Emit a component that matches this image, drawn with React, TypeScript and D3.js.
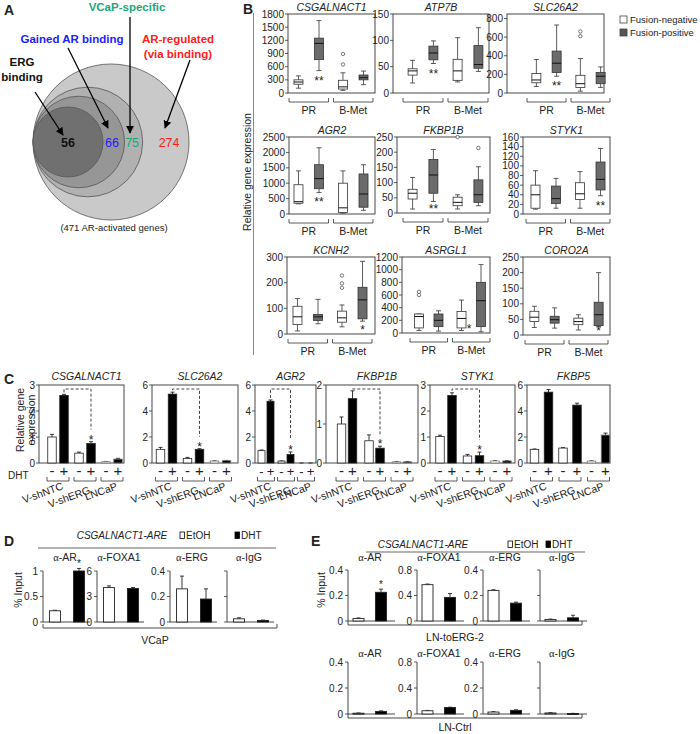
import React from 'react';
import * as d3 from 'd3';

const FONT = "'Liberation Sans', Arial, Helvetica, sans-serif";
const INK = '#222';

// ================= Panel A data =================
const vennLabelLines = [['ERG', 'binding'], ['Gained AR binding'], ['VCaP-specific'], ['AR-regulated', '(via binding)']];
const vennCounts = [56, 66, 75, 274];
const vennTotalLabel = '(471 AR-activated genes)';

// ================= Panel B data =================
const boxGenes = ['CSGALNACT1', 'ATP7B', 'SLC26A2', 'AGR2', 'FKBP1B', 'STYK1', 'KCNH2', 'ASRGL1', 'CORO2A'];
const boxTickMax = [1800, 150, 800, 2500, 250, 160, 300, 1200, 250];
const boxTickStep = [300, 50, 200, 500, 50, 20, 100, 200, 50];
const boxGroups = ['PR', 'B-Met'];
const fusionLegend = ['Fusion-negative', 'Fusion-positive'];
// [min, q1, median, q3, max] for PR-neg, PR-pos, B-Met-neg, B-Met-pos
const csgalnact1Box = [[110, 200, 250, 300, 390], [510, 760, 1130, 1250, 1650], [60, 90, 140, 290, 460], [190, 300, 350, 410, 500]];
const atp7bBox = [[19, 34, 42, 46, 62], [56, 63, 76, 89, 99], [21, 24, 42, 64, 105], [41, 47, 54, 90, 124]];
const slc26a2Box = [[70, 110, 140, 210, 360], [180, 220, 320, 450, 730], [20, 60, 100, 190, 370], [60, 100, 180, 220, 280]];
const agr2Box = [[330, 350, 400, 950, 1400], [700, 820, 1150, 1600, 2150], [30, 50, 200, 1000, 1400], [120, 220, 650, 1300, 1600]];
const fkbp1bBox = [[13, 46, 65, 78, 117], [38, 65, 125, 176, 209], [13, 24, 35, 52, 60], [24, 35, 60, 109, 152]];
const styk1Box = [[10, 12, 40, 60, 90], [12, 22, 32, 58, 74], [12, 30, 42, 65, 88], [38, 50, 72, 108, 136]];
const kcnh2Box = [[12, 37, 67, 108, 138], [40, 53, 67, 76, 135], [28, 46, 63, 89, 113], [50, 59, 133, 182, 283]];
const asrgl1Box = [[40, 80, 260, 300, 300], [30, 100, 200, 300, 350], [40, 80, 230, 340, 520], [20, 100, 510, 800, 1080]];
const coro2aBox = [[24, 43, 57, 76, 92], [22, 38, 49, 60, 87], [16, 33, 43, 54, 65], [27, 30, 65, 105, 200]];
const csgalnact1Out = [[], [], [650, 890], []];
const slc26a2Out = [[], [], [610, 660], []];
const fkbp1bOut = [[], [], [250], [214]];
const kcnh2Out = [[], [], [180, 197, 228], []];
const asrgl1Out = [[600, 650], [], [], []];
const noOut = [[], [], [], []];
const starsPRpos = ['', '**', '', ''];
const starsBMpos2 = ['', '', '', '**'];
const starsBMpos1 = ['', '', '', '*'];

const boxStatsAll = [csgalnact1Box, atp7bBox, slc26a2Box, agr2Box, fkbp1bBox, styk1Box, kcnh2Box, asrgl1Box, coro2aBox];
const boxOutAll = [csgalnact1Out, noOut, slc26a2Out, noOut, fkbp1bOut, noOut, kcnh2Out, asrgl1Out, noOut];
const boxStarsAll = [starsPRpos, starsPRpos, starsPRpos, starsPRpos, starsPRpos, starsBMpos2, starsBMpos1, starsBMpos1, starsBMpos1];

// ================= Panel C data =================
const barGenes = ['CSGALNACT1', 'SLC26A2', 'AGR2', 'FKBP1B', 'STYK1', 'FKBP5'];
const barTickMax = [3, 6, 6, 2, 3, 6];
const barTickStep = [1, 2, 2, 1, 1, 2];
const cellLines = ['V-shNTC', 'V-shERG', 'LNCaP'];
const dhtSigns = ['-', '+'];
// order: NTC-, NTC+, shERG-, shERG+, LNCaP-, LNCaP+
const csgalnact1Expr = [1.0, 2.6, 0.38, 0.75, 0.05, 0.15];
const csgalnact1Err = [0.1, 0.04, 0.04, 0.07, 0.01, 0.03];
const slc26a2Expr = [1.05, 5.3, 0.35, 1.05, 0.15, 0.18];
const slc26a2Err = [0.15, 0.15, 0.08, 0.05, 0.02, 0.02];
const agr2Expr = [0.95, 4.75, 0.15, 0.65, 0.0, 0.0];
const agr2Err = [0.05, 0.1, 0.01, 0.2, 0, 0];
const fkbp1bExpr = [1.0, 1.65, 0.57, 0.38, 0.03, 0.03];
const fkbp1bErr = [0.18, 0.2, 0.15, 0.05, 0.01, 0.01];
const styk1Expr = [1.02, 2.6, 0.27, 0.28, 0.08, 0.08];
const styk1Err = [0.05, 0.1, 0.06, 0.14, 0.01, 0.01];
const fkbp5Expr = [1.05, 5.45, 1.15, 4.45, 0.15, 2.15];
const fkbp5Err = [0.03, 0.2, 0.03, 0.15, 0.02, 0.15];
const barExprAll = [csgalnact1Expr, slc26a2Expr, agr2Expr, fkbp1bExpr, styk1Expr, fkbp5Expr];
const barErrAll = [csgalnact1Err, slc26a2Err, agr2Err, fkbp1bErr, styk1Err, fkbp5Err];
const barSignificant = [true, true, true, true, true, false];

// ================= Panels D / E data =================
const chipRegion = 'CSGALNACT1-ARE';
const chipTreatments = ['EtOH', 'DHT'];
const chipAntibodies = ['AR', 'FOXA1', 'ERG', 'IgG'];
const vcapTickMax = [1, 6, 0.4, 0.4];
const lnTickMax = [0.4, 0.8, 0.4, 0.4];
const chipTickLabels = [true, true, true, false];
const vcapChip = [[0.22, 1.0], [4.05, 3.95], [0.26, 0.18], [0.025, 0.012]];
const vcapChipErr = [[0.01, 0.05], [0.2, 0.1], [0.1, 0.08], [0.008, 0.003]];
const lnErgChip = [[0.02, 0.225], [0.57, 0.37], [0.24, 0.14], [0.012, 0.025]];
const lnErgChipErr = [[0.004, 0.025], [0.01, 0.06], [0.005, 0.008], [0.003, 0.02]];
const lnCtrlChip = [[0.006, 0.02], [0.05, 0.1], [0.015, 0.028], [0.008, 0.004]];
const lnCtrlChipErr = [[0.002, 0.004], [0.005, 0.005], [0.003, 0.004], [0.002, 0.001]];
const vcapStars = [['', '*'], ['', ''], ['', ''], ['', '']];
const lnErgStars = [['', '*'], ['', ''], ['', ''], ['', '']];
const noStars = [['', ''], ['', ''], ['', ''], ['', '']];
const cellLineD = 'VCaP';
const cellLinesE = ['LN-toERG-2', 'LN-Ctrl'];

// ================= Panel A =================
function PanelA() {
  const cum = Array.from(d3.cumsum(vennCounts));
  const rScale = d3.scaleSqrt().domain([cum[0], cum[cum.length - 1]]).range([35, 78]);
  const left = 33;
  const cy = 142;
  const radii = cum.map((c) => rScale(c));
  const fills = ['#707070', '#969696', '#b1b1b1', '#c9c9c9'];
  const numColors = ['#111111', '#2020ff', '#18a878', '#ff2020'];
  const numFrac = [0, 0.42, 0.42, 0.57];
  const numX = radii.map((r, i) => (i === 0 ? left + r : left + 2 * radii[i - 1] + numFrac[i] * (2 * r - 2 * radii[i - 1])));
  const labelPos = [[22, 66], [72, 43], [127, 11], [178, 43]];
  const arrows = [[35, 92, 63, 135], [68, 48, 108, 128], [130, 17, 130, 133], [190, 60, 165, 128]];
  const order = d3.range(radii.length).reverse();
  return (
    <g>
      <defs>
        <marker id="ahA" viewBox="0 0 10 10" refX="9" refY="5" markerWidth="8" markerHeight="8" markerUnits="userSpaceOnUse" orient="auto">
          <path d="M0,0 L10,5 L0,10 z" fill="#000" />
        </marker>
      </defs>
      <text x={4} y={15} fontSize={14} fontWeight="bold">A</text>
      {order.map((i) => (
        <circle key={i} cx={left + radii[i]} cy={cy} r={radii[i]} fill={fills[i]} stroke="#555" strokeWidth={0.8} />
      ))}
      {vennCounts.map((c, i) => (
        <text key={i} x={numX[i]} y={cy + 5} textAnchor="middle" fontSize={12.5} fontWeight={i === 0 ? 'bold' : 'normal'} fill={numColors[i]}>{c}</text>
      ))}
      {arrows.map((a, i) => (
        <line key={i} x1={a[0]} y1={a[1]} x2={a[2]} y2={a[3]} stroke="#000" strokeWidth={1.3} markerEnd="url(#ahA)" />
      ))}
      {vennLabelLines.map((lines, i) => (
        <text key={i} x={labelPos[i][0]} y={labelPos[i][1]} textAnchor="middle" fontSize={11.5} fontWeight="bold" fill={i === 0 ? '#111' : numColors[i]}>
          {lines.map((l, j) => (
            <tspan key={j} x={labelPos[i][0]} dy={j === 0 ? 0 : 15}>{l}</tspan>
          ))}
        </text>
      ))}
      <text x={114} y={231} textAnchor="middle" fontSize={9.5} fill="#222">{vennTotalLabel}</text>
    </g>
  );
}

// ================= Panel B =================
const bLayout = [
  { x0: 288, x1: 375, y0: 14, y1: 93, bx0: 289, bx1: 373, pad: 1 },
  { x0: 393, x1: 489, y0: 14, y1: 93, bx0: 403, bx1: 488, pad: 1 },
  { x0: 507, x1: 604, y0: 14, y1: 93, bx0: 527, bx1: 610, pad: 1.06 },
  { x0: 289, x1: 375, y0: 137, y1: 214, bx0: 289, bx1: 373, pad: 1 },
  { x0: 397, x1: 490, y0: 137, y1: 213, bx0: 403, bx1: 488, pad: 1 },
  { x0: 523, x1: 610, y0: 137, y1: 214, bx0: 526, bx1: 610, pad: 1 },
  { x0: 287, x1: 375, y0: 257, y1: 334, bx0: 288, bx1: 372, pad: 1 },
  { x0: 402, x1: 490, y0: 257, y1: 333, bx0: 410, bx1: 490, pad: 1 },
  { x0: 523, x1: 610, y0: 257, y1: 335, bx0: 525, bx1: 608, pad: 1 },
];
const starShift = [0, 0, 0, 0, 0, 0, 0, -12, 0];

function BoxPanel({ idx }: { idx: number }) {
  const L = bLayout[idx];
  const stats = boxStatsAll[idx];
  const outs = boxOutAll[idx];
  const stars = boxStarsAll[idx];
  const tmax = boxTickMax[idx];
  const y = d3.scaleLinear().domain([0, tmax * L.pad]).range([L.y1, L.y0]);
  const ticks = d3.range(0, tmax + boxTickStep[idx] / 2, boxTickStep[idx]);
  const mid = (L.bx0 + L.bx1) / 2;
  const brackets = [[L.bx0, mid - 2.5], [mid + 2.5, L.bx1]];
  const centers: number[] = [];
  brackets.forEach(([a, b]) => {
    const c = (a + b) / 2;
    const w = b - a;
    centers.push(c - w * 0.26, c + w * 0.26);
  });
  const bw = 9;
  return (
    <g>
      <text x={(L.x0 + L.x1) / 2} y={L.y0 - 3} textAnchor="middle" fontSize={10.5} fontStyle="italic">{boxGenes[idx]}</text>
      <rect x={L.x0} y={L.y0} width={L.x1 - L.x0} height={L.y1 - L.y0} fill="none" stroke="#333" strokeWidth={0.9} />
      {ticks.map((t) => (
        <g key={t}>
          <line x1={L.x0 - 3} x2={L.x0} y1={y(t)} y2={y(t)} stroke="#333" strokeWidth={0.8} />
          <text x={L.x0 - 4} y={y(t) + 3.5} textAnchor="end" fontSize={10}>{t}</text>
        </g>
      ))}
      {stats.map((s, i) => {
        const cx = centers[i];
        const pos = i % 2 === 1;
        return (
          <g key={i}>
            <line x1={cx} x2={cx} y1={y(s[0])} y2={y(s[1])} stroke="#333" strokeWidth={0.8} />
            <line x1={cx} x2={cx} y1={y(s[3])} y2={y(s[4])} stroke="#333" strokeWidth={0.8} />
            <line x1={cx - 2.5} x2={cx + 2.5} y1={y(s[0])} y2={y(s[0])} stroke="#333" strokeWidth={0.8} />
            <line x1={cx - 2.5} x2={cx + 2.5} y1={y(s[4])} y2={y(s[4])} stroke="#333" strokeWidth={0.8} />
            <rect x={cx - bw / 2} y={y(s[3])} width={bw} height={Math.max(0.5, y(s[1]) - y(s[3]))} fill={pos ? '#6b6b6b' : '#fff'} stroke="#333" strokeWidth={0.8} />
            <line x1={cx - bw / 2} x2={cx + bw / 2} y1={y(s[2])} y2={y(s[2])} stroke="#111" strokeWidth={1} />
            {outs[i].map((o, k) => (
              <circle key={k} cx={cx} cy={y(o)} r={1.7} fill="#fff" stroke="#555" strokeWidth={0.8} />
            ))}
            {stars[i] && (
              <text x={cx + starShift[idx]} y={Math.min(y(s[0]) + 7, L.y1 - 7) + 7} textAnchor="middle" fontSize={12}>{stars[i]}</text>
            )}
          </g>
        );
      })}
      {brackets.map(([a, b], i) => (
        <g key={i}>
          <path d={`M${a},${L.y1 + 5}V${L.y1 + 9}H${b}V${L.y1 + 5}`} fill="none" stroke="#333" strokeWidth={0.8} />
          <text x={(a + b) / 2} y={L.y1 + 21} textAnchor="middle" fontSize={10.5}>{boxGroups[i]}</text>
        </g>
      ))}
    </g>
  );
}

function PanelB() {
  return (
    <g>
      <text x={243} y={14} fontSize={14} fontWeight="bold">B</text>
      <line x1={253.5} x2={253.5} y1={13} y2={355} stroke="#888" strokeWidth={1} />
      <text transform="translate(251,172) rotate(-90)" textAnchor="middle" fontSize={10.5}>Relative gene expression</text>
      {boxGenes.map((g, i) => (
        <BoxPanel key={g} idx={i} />
      ))}
      {fusionLegend.map((t, i) => (
        <g key={t}>
          <rect x={620} y={16 + i * 13} width={7} height={7} fill={i === 0 ? '#fff' : '#555'} stroke="#444" strokeWidth={0.8} />
          <text x={630} y={23 + i * 13} fontSize={9.5}>{t}</text>
        </g>
      ))}
    </g>
  );
}

// ================= Panel C =================
const cLayout = [
  { ax: 39, right: 124, g0: 58, gs: 27, off: 6, bw: 8.5, br: 11 },
  { ax: 152, right: 238, g0: 166.5, gs: 27, off: 6, bw: 8.5, br: 11 },
  { ax: 255, right: 316, g0: 266, gs: 20, off: 4.5, bw: 7, br: 8.5 },
  { ax: 326, right: 418, g0: 347, gs: 27.5, off: 5.5, bw: 8.5, br: 11 },
  { ax: 430, right: 515, g0: 446, gs: 27.5, off: 6, bw: 8.5, br: 11 },
  { ax: 527, right: 610, g0: 541.5, gs: 28.5, off: 7, bw: 8.5, br: 11 },
];
const cTop = 385;
const cBottom = 463;

function BarPanel({ idx }: { idx: number }) {
  const L = cLayout[idx];
  const vals = barExprAll[idx];
  const errs = barErrAll[idx];
  const y = d3.scaleLinear().domain([0, barTickMax[idx]]).range([cBottom, cTop]);
  const ticks = d3.range(0, barTickMax[idx] + barTickStep[idx] / 2, barTickStep[idx]);
  const gx = d3.scaleLinear().domain([0, cellLines.length - 1]).range([L.g0, L.g0 + L.gs * (cellLines.length - 1)]);
  const barX = vals.map((_, i) => gx(Math.floor(i / 2)) + (i % 2 === 0 ? -L.off : L.off));
  const bw = L.bw;
  const sig = barSignificant[idx];
  const b1 = barX[1];
  const b3 = barX[3];
  const starY = y(vals[3] + errs[3]) - 4;
  return (
    <g>
      <text x={(L.ax + L.right) / 2 + 5} y={cTop - 5} textAnchor="middle" fontSize={10.5} fontStyle="italic">{barGenes[idx]}</text>
      <rect x={L.ax} y={cTop} width={L.right - L.ax} height={cBottom - cTop} fill="none" stroke="#333" strokeWidth={0.9} />
      {ticks.map((t) => (
        <g key={t}>
          <line x1={L.ax - 3} x2={L.ax} y1={y(t)} y2={y(t)} stroke="#333" strokeWidth={0.8} />
          <text x={L.ax - 4} y={y(t) + 3.5} textAnchor="end" fontSize={10}>{t}</text>
        </g>
      ))}
      {vals.map((v, i) => {
        const cx = barX[i];
        const black = i % 2 === 1;
        return (
          <g key={i}>
            <line x1={cx} x2={cx} y1={y(v)} y2={y(v + errs[i])} stroke="#222" strokeWidth={0.9} />
            <line x1={cx - 2} x2={cx + 2} y1={y(v + errs[i])} y2={y(v + errs[i])} stroke="#222" strokeWidth={0.9} />
            {v > 0 && (
              <rect x={cx - bw / 2} y={y(v)} width={bw} height={cBottom - y(v)} fill={black ? '#000' : '#fff'} stroke={i >= 4 ? '#777' : '#222'} strokeWidth={0.8} />
            )}
          </g>
        );
      })}
      {sig && (
        <g>
          <path d={`M${b1},${y(vals[1] + errs[1]) - 2}V${cTop + 4}H${b3}V${starY - 8}`} fill="none" stroke="#444" strokeWidth={1} strokeDasharray="3,2" />
          <text x={b3} y={starY + 6} textAnchor="middle" fontSize={12}>*</text>
        </g>
      )}
      {barX.map((cx, i) => (
        <text key={i} x={cx} y={476} textAnchor="middle" fontSize={idx === 2 ? 13 : 15}>{dhtSigns[i % 2]}</text>
      ))}
      {cellLines.map((c, g) => (
        <g key={c}>
          <path d={`M${gx(g) - L.br},${477}V${481}H${gx(g) + L.br}V${477}`} fill="none" stroke="#333" strokeWidth={0.8} />
          <text transform={`translate(${gx(g) + 6},${489 + (g === 1 ? 4 : 0)}) rotate(-20)`} textAnchor="end" fontSize={10.5}>{c}</text>
        </g>
      ))}
    </g>
  );
}

function PanelC() {
  return (
    <g>
      <text x={4} y={384} fontSize={14} fontWeight="bold">C</text>
      <text transform="translate(24,420) rotate(-90)" textAnchor="middle" fontSize={10.5}>Relative gene</text>
      <text transform="translate(35,420) rotate(-90)" textAnchor="middle" fontSize={10.5}>expression</text>
      <text x={8} y={479} fontSize={10}>DHT</text>
      {barGenes.map((g, i) => (
        <BarPanel key={g} idx={i} />
      ))}
    </g>
  );
}

// ================= Panels D & E =================
function ChipAxis(props: {
  ax: number; top: number; bottom: number; tickMax: number; showLabels: boolean;
  vals: number[]; errs: number[]; stars: string[]; title: string; titleY: number; wOff: number; bOff: number;
}) {
  const { ax, top, bottom, tickMax, showLabels, vals, errs, stars, title, titleY, wOff, bOff } = props;
  const y = d3.scaleLinear().domain([0, tickMax]).range([bottom, top]);
  const ticks = [0, tickMax / 2, tickMax];
  const fmt = d3.format('~g');
  const offs = [wOff, bOff];
  const bw = 11;
  return (
    <g>
      <text x={ax + 22} y={titleY} textAnchor="middle" fontSize={10.5}>
        <tspan fontFamily="'Liberation Serif', 'DejaVu Serif', serif">α</tspan>-{title}
      </text>
      <line x1={ax} x2={ax} y1={top} y2={bottom} stroke="#333" strokeWidth={0.9} />
      <line x1={ax} x2={ax + 47} y1={bottom} y2={bottom} stroke="#333" strokeWidth={0.9} />
      {ticks.map((t) => (
        <g key={t}>
          <line x1={ax - 3} x2={ax} y1={y(t)} y2={y(t)} stroke="#333" strokeWidth={0.8} />
          {showLabels && (
            <text x={ax - 5} y={y(t) + 3.5} textAnchor="end" fontSize={10}>{fmt(t)}</text>
          )}
        </g>
      ))}
      {vals.map((v, i) => {
        const cx = ax + offs[i];
        return (
          <g key={i}>
            <line x1={cx} x2={cx} y1={y(v)} y2={y(v + errs[i])} stroke="#222" strokeWidth={0.9} />
            <line x1={cx - 2} x2={cx + 2} y1={y(v + errs[i])} y2={y(v + errs[i])} stroke="#222" strokeWidth={0.9} />
            <rect x={cx - bw / 2} y={y(v)} width={bw} height={Math.max(1, bottom - y(v))} fill={i === 1 ? '#000' : '#fff'} stroke="#222" strokeWidth={0.9} />
            {stars[i] && (
              <text x={cx} y={y(v + errs[i]) - 1} textAnchor="middle" fontSize={10}>{stars[i]}</text>
            )}
          </g>
        );
      })}
    </g>
  );
}

function ChipHeader({ cx, y, legendX, legendGap, lineY, lx0, lx1 }: { cx: number; y: number; legendX: number; legendGap: number; lineY: number; lx0: number; lx1: number }) {
  return (
    <g>
      <text x={cx} y={y} textAnchor="middle" fontSize={10} fontStyle="italic">{chipRegion}</text>
      {chipTreatments.map((t, i) => (
        <g key={t}>
          <rect x={legendX + i * legendGap} y={y - 7} width={4.5} height={6.5} fill={i === 0 ? '#fff' : '#000'} stroke="#000" strokeWidth={0.8} />
          <text x={legendX + i * legendGap + 6} y={y} fontSize={10}>{t}</text>
        </g>
      ))}
      <line x1={lx0} x2={lx1} y1={lineY} y2={lineY} stroke="#555" strokeWidth={0.9} />
    </g>
  );
}

function PanelD() {
  const axes = [43, 97, 170, 227];
  return (
    <g>
      <text x={4} y={546} fontSize={14} fontWeight="bold">D</text>
      <ChipHeader cx={122} y={539} legendX={180} legendGap={55} lineY={548} lx0={38} lx1={276} />
      <text transform="translate(22,590) rotate(-90)" textAnchor="middle" fontSize={10.5}>% Input</text>
      {chipAntibodies.map((ab, i) => (
        <ChipAxis key={ab} ax={axes[i]} top={571} bottom={622} tickMax={vcapTickMax[i]} showLabels={chipTickLabels[i]}
          vals={vcapChip[i]} errs={vcapChipErr[i]} stars={vcapStars[i]} title={ab} titleY={561} wOff={12} bOff={36} />
      ))}
      <path d="M43,624V628H277V624" fill="none" stroke="#333" strokeWidth={0.9} />
      <text x={155} y={644} textAnchor="middle" fontSize={10.5}>{cellLineD}</text>
    </g>
  );
}

function PanelE() {
  const axes = [348, 417, 483, 540];
  const rows = [
    { top: 570, bottom: 621, vals: lnErgChip, errs: lnErgChipErr, stars: lnErgStars, titleY: 561, label: cellLinesE[0], labelY: 641 },
    { top: 662, bottom: 714, vals: lnCtrlChip, errs: lnCtrlChipErr, stars: noStars, titleY: 657, label: cellLinesE[1], labelY: 731 },
  ];
  return (
    <g>
      <text x={311} y={546} fontSize={14} fontWeight="bold">E</text>
      <ChipHeader cx={423} y={548} legendX={508} legendGap={38} lineY={552} lx0={366} lx1={585} />
      <text transform="translate(325,590) rotate(-90)" textAnchor="middle" fontSize={10.5}>% Input</text>
      {rows.map((r, ri) => (
        <g key={ri}>
          {chipAntibodies.map((ab, i) => (
            <ChipAxis key={ab} ax={axes[i]} top={r.top} bottom={r.bottom} tickMax={lnTickMax[i]} showLabels={chipTickLabels[i]}
              vals={r.vals[i]} errs={r.errs[i]} stars={r.stars[i]} title={ab} titleY={r.titleY} wOff={10.5} bOff={33} />
          ))}
          <path d={`M348,${r.bottom + 0}V${r.bottom + 4}H582V${r.bottom}`} fill="none" stroke="#333" strokeWidth={0.9} />
          <text x={455} y={r.labelY} textAnchor="middle" fontSize={10.5}>{r.label}</text>
        </g>
      ))}
    </g>
  );
}

export default function App() {
  return (
    <svg width={700} height={734} viewBox="0 0 700 734" style={{ position: 'absolute', left: 0, top: 0, display: 'block' }} fontFamily={FONT} fill={INK}>
      <rect width={700} height={734} fill="#fff" />
      <PanelA />
      <PanelB />
      <PanelC />
      <PanelD />
      <PanelE />
    </svg>
  );
}
